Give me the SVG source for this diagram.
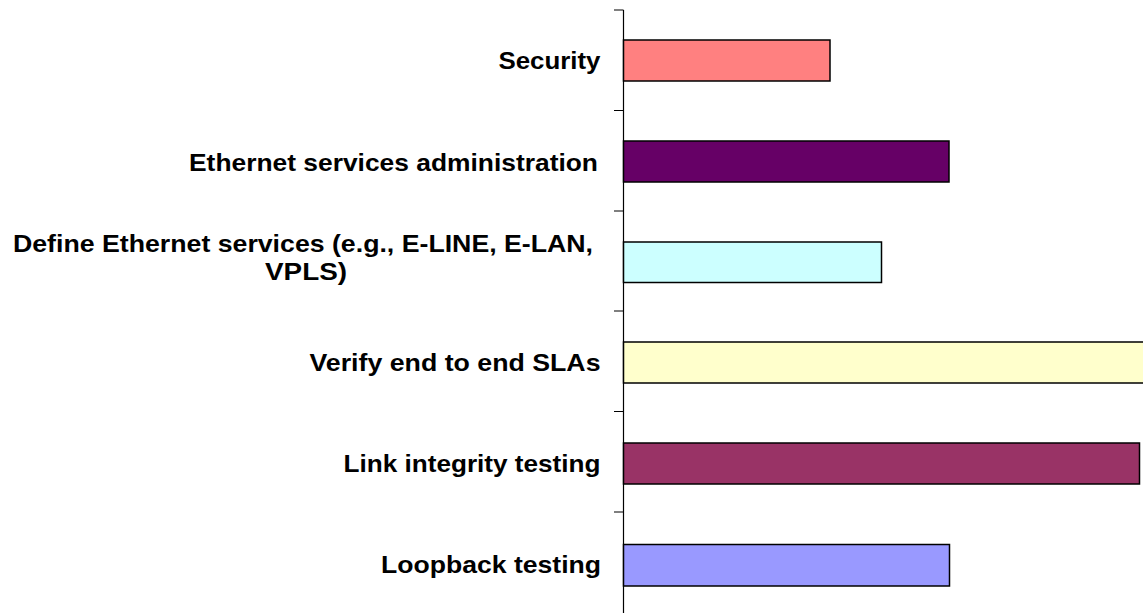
<svg xmlns="http://www.w3.org/2000/svg" width="1143" height="613" viewBox="0 0 1143 613">
  <style>
    .bar { stroke: #000000; stroke-width: 1.5; }
    .lbl { font-family: "Liberation Sans", Arial, sans-serif; font-weight: bold; font-size: 24px; fill: #000000; }
    .axis { stroke: #000000; stroke-width: 1.2; fill: none; }
  </style>
  <rect width="1143" height="613" fill="#ffffff"/>

  <!-- category axis with tick marks -->
  <g id="axis">
    <path class="axis" d="M623.5,10 V613 M614,10 H623.5 M614,110.5 H623.5 M614,211 H623.5 M614,311 H623.5 M614,411.5 H623.5 M614,512 H623.5"/>
  </g>

  <g id="security">
    <rect class="bar" x="623.5" y="40" width="206.5" height="41" fill="#FF8080"/>
    <text class="lbl" x="600.5" y="68.5" text-anchor="end" textLength="102" lengthAdjust="spacingAndGlyphs">Security</text>
  </g>

  <g id="admin">
    <rect class="bar" x="623.5" y="141" width="325.5" height="41" fill="#660066"/>
    <text class="lbl" x="598" y="171" text-anchor="end" textLength="409" lengthAdjust="spacingAndGlyphs">Ethernet services administration</text>
  </g>

  <g id="define">
    <rect class="bar" x="623.5" y="242" width="258" height="40.5" fill="#CCFFFF"/>
    <text class="lbl" x="303" y="251.5" text-anchor="middle" textLength="580" lengthAdjust="spacingAndGlyphs">Define Ethernet services (e.g., E-LINE, E-LAN,</text>
    <text class="lbl" x="306" y="279.5" text-anchor="middle" textLength="82" lengthAdjust="spacingAndGlyphs">VPLS)</text>
  </g>

  <g id="verify">
    <rect class="bar" x="623.5" y="342" width="522" height="41" fill="#FFFFCC"/>
    <text class="lbl" x="600.5" y="371" text-anchor="end" textLength="291" lengthAdjust="spacingAndGlyphs">Verify end to end SLAs</text>
  </g>

  <g id="link">
    <rect class="bar" x="623.5" y="443" width="516" height="41" fill="#993366"/>
    <text class="lbl" x="600.5" y="472" text-anchor="end" textLength="257" lengthAdjust="spacingAndGlyphs">Link integrity testing</text>
  </g>

  <g id="loopback">
    <rect class="bar" x="623.5" y="544.5" width="326" height="41.5" fill="#9999FF"/>
    <text class="lbl" x="601" y="573" text-anchor="end" textLength="220" lengthAdjust="spacingAndGlyphs">Loopback testing</text>
  </g>
</svg>
